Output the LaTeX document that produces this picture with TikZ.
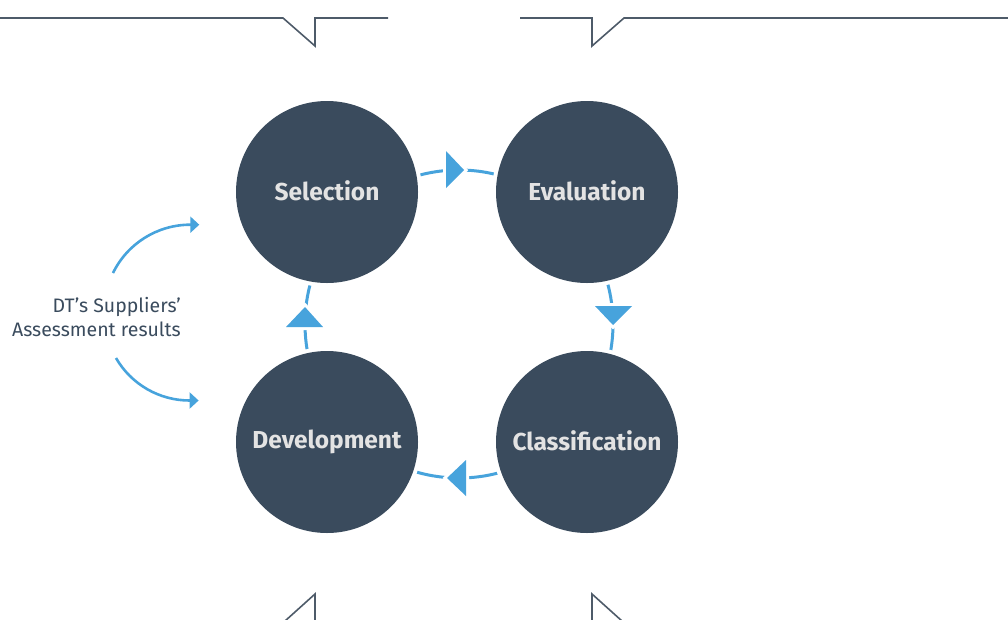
\documentclass[tikz,border=0pt]{standalone}
\usepackage{fontspec}
\setmainfont{Fira Sans}
\usetikzlibrary{arrows.meta}
\definecolor{dark}{HTML}{3A4B5D}
\definecolor{cblue}{HTML}{47A3DC}
\definecolor{frame}{HTML}{4E5B69}
\definecolor{lbl}{HTML}{E3E3E3}
\newcommand{\stagetext}[1]{\raisebox{2pt}{#1}}
\begin{document}
\begin{tikzpicture}[x=1pt,y=-1pt,
  stage/.style={circle, fill=dark, minimum size=182pt, inner sep=0pt, outer sep=0pt,
    text=lbl, font=\fontsize{24.5}{28}\selectfont\bfseries,
    preaction={draw=white, line width=8pt}},
  cycle/.style={draw=cblue, line width=3pt},
  head/.style={fill=cblue, preaction={draw=white, line width=6pt, line join=miter}},
  feed/.style={draw=cblue, line width=2.6pt, -{Triangle[length=9pt,width=16pt]}},
  framel/.style={draw=frame, line width=1.6pt},
  note/.style={text=dark, font=\fontsize{19.5}{24}\selectfont, align=right, inner sep=0pt}]
\useasboundingbox (0,0) rectangle (1008,619);
% frame fragments
\draw[framel] (0,18) -- (283,18) -- (315,46) -- (315,18) -- (388,18);
\draw[framel] (520,18) -- (592,18) -- (592,46) -- (624,18) -- (1008,18);
\draw[framel] (285,621) -- (315,594) -- (315,621);
\draw[framel] (592,621) -- (592,594) -- (622,621);
% cycle ring
\coordinate (cyc) at (459,324);
\draw[cycle] (cyc) circle[radius=154];
% arrowheads on cycle
\path[head] (446,151) -- (446,188) -- (464,170) -- cycle;
\path[head] (595,306) -- (632,306) -- (613,325) -- cycle;
\path[head] (466,460) -- (466,496) -- (447,478) -- cycle;
\path[head] (286,327) -- (323,327) -- (305,307) -- cycle;
% stages
\node[stage] (sel) at (327,192) {\stagetext{Selection}};
\node[stage] (eva) at (587,192) {\stagetext{Evaluation}};
\node[stage] (dev) at (327,442) {\stagetext{Development}};
\node[stage] (cla) at (587,442) {\stagetext{Classification}};
% input note
\node[note, anchor=east] (res) at (181,317) {DT’s Suppliers’\\Assessment results};
\coordinate (s1) at (113,273);
\coordinate (s2) at (116,358);
\draw[feed] (s1) arc[start angle=206, end angle=270, radius=86] -- ++(9,0);
\draw[feed] (s2) arc[start angle=150, end angle=90, radius=85] -- ++(9,0);
\end{tikzpicture}
\end{document}
